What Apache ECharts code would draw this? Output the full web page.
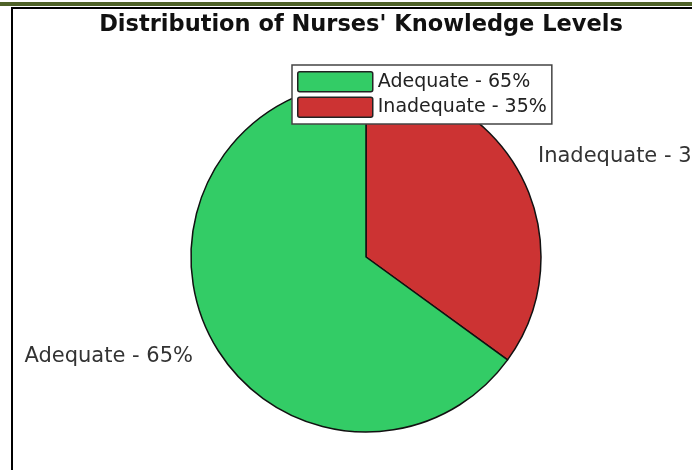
<!DOCTYPE html>
<html>
<head>
<meta charset="utf-8">
<script src="https://cdn.jsdelivr.net/npm/echarts@6/dist/echarts.min.js"></script>
<style>
  html, body { margin: 0; padding: 0; background: #fff; }
  #chart { width: 692px; height: 470px; }
</style>
</head>
<body>
<div id="chart"></div>
<script>
// knowledge levels, drawn red first from 12 o'clock
const categories = ["Inadequate", "Adequate"]
const values = [35, 65]
const colors = ["#CC3333", "#33CC66"]
const legendOrder = ["Adequate", "Inadequate"]

const labelOf = (name, v) => name + " - " + v + "%"
const names = categories.map((c, i) => labelOf(c, values[i]))

// where the outside labels sit (left/right anchor of the text)
const labelSpots = [
  {x: 538, y: 157, align: "left"},
  {x: 193, y: 357, align: "right"}
]

const chart = echarts.init(document.getElementById("chart"))
chart.setOption({
  animation: false,
  backgroundColor: "#fff",
  title: {
    text: "Distribution of Nurses' Knowledge Levels",
    left: 356,
    top: 9,
    textAlign: "center",
    textStyle: {
      fontFamily: "DejaVu Sans",
      fontSize: 22.5,
      fontWeight: "bold",
      color: "#111"
    }
  },
  legend: {
    data: legendOrder.map(c => names[categories.indexOf(c)]),
    orient: "vertical",
    left: 292,
    top: 65,
    padding: [6, 5, 6, 5],
    itemGap: 4,
    itemWidth: 75,
    itemHeight: 20,
    icon: "path://M2,0 L73,0 Q75,0 75,2 L75,18 Q75,20 73,20 L2,20 Q0,20 0,18 L0,2 Q0,0 2,0 Z",
    backgroundColor: "#fff",
    borderColor: "#444",
    borderWidth: 1.5,
    itemStyle: {borderColor: "#222", borderWidth: 1.5},
    textStyle: {
      fontFamily: "DejaVu Sans",
      fontSize: 19,
      color: "#222"
    }
  },
  graphic: [
    {type: "rect", shape: {x: 0, y: 2, width: 692, height: 4}, style: {fill: "#4F6228"}},
    {type: "rect", shape: {x: 11, y: 7, width: 681, height: 2}, style: {fill: "#000"}},
    {type: "rect", shape: {x: 11, y: 7, width: 2, height: 463}, style: {fill: "#000"}}
  ],
  series: [{
    type: "pie",
    center: [366, 257],
    radius: 175,
    startAngle: 90,
    clockwise: true,
    avoidLabelOverlap: false,
    z: 1,
    itemStyle: {borderColor: "#111", borderWidth: 1.5},
    label: {
      show: true,
      position: "outside",
      overflow: "none",
      fontFamily: "DejaVu Sans",
      fontSize: 21,
      color: "#333"
    },
    labelLine: {show: false},
    labelLayout: p => ({
      x: labelSpots[p.dataIndex].x,
      y: labelSpots[p.dataIndex].y,
      align: labelSpots[p.dataIndex].align,
      verticalAlign: "middle"
    }),
    emphasis: {disabled: true},
    data: categories.map((c, i) => ({
      name: names[i],
      value: values[i],
      itemStyle: {color: colors[i]}
    }))
  }]
})
</script>
</body>
</html>
